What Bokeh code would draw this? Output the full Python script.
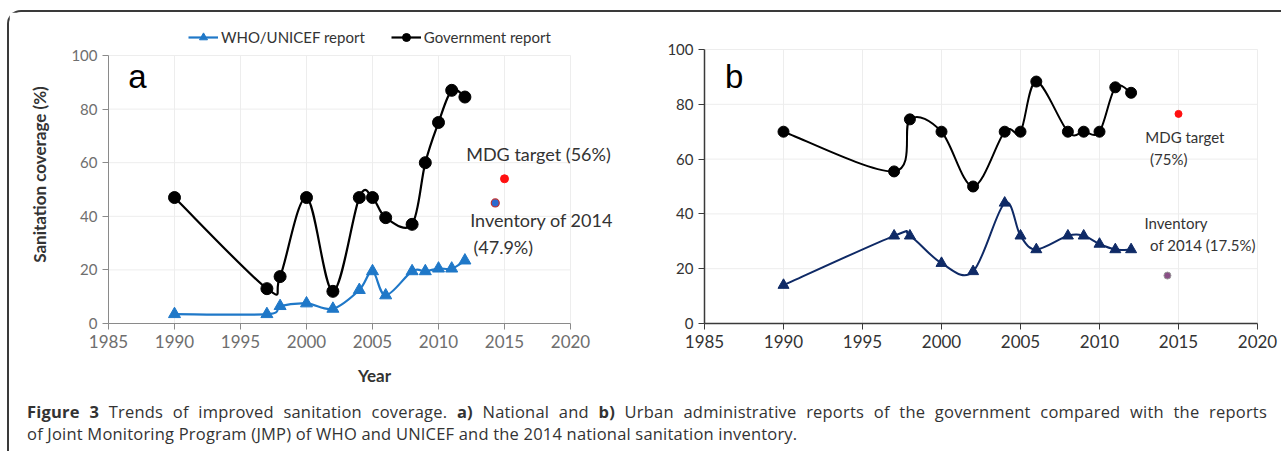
from bokeh.plotting import figure
from bokeh.models import Range1d, FixedTicker, Label, Legend, LegendItem, Div
from bokeh.layouts import row, column
from bokeh.embed import file_html
from bokeh.resources import INLINE

# ---------------- data ----------------
years_a_gov = [1990, 1997, 1998, 2000, 2002, 2004, 2005, 2006, 2008, 2009, 2010, 2011, 2012]
gov_a = [47, 13, 17.5, 47, 12, 47, 47, 39.5, 37, 60, 75, 87, 84.5]
years_a_who = [1990, 1997, 1998, 2000, 2002, 2004, 2005, 2006, 2008, 2009, 2010, 2011, 2012]
who_a = [3.5, 3.5, 6.5, 7.5, 5.5, 12.5, 19.5, 10.5, 19.5, 19.5, 20.5, 20.5, 23.5]
mdg_a = (2015, 54)
inv_a = (2014.3, 45)

years_b_gov = [1990, 1997, 1998, 2000, 2002, 2004, 2005, 2006, 2008, 2009, 2010, 2011, 2012]
gov_b = [70, 55.5, 74.5, 70, 50, 70, 70, 88.3, 70, 70, 70, 86.2, 84.2]
years_b_who = [1990, 1997, 1998, 2000, 2002, 2004, 2005, 2006, 2008, 2009, 2010, 2011, 2012]
who_b = [14, 32, 32, 22, 19, 44, 32, 27, 32, 32, 29, 27, 27]
mdg_b = (2015, 76.5)
inv_b = (2014.3, 17.5)

x_ticks = [1985, 1990, 1995, 2000, 2005, 2010, 2015, 2020]
y_ticks = [0, 20, 40, 60, 80, 100]

FONT = "Lato"
FRAME_H = 298


def smooth(xs, ys):
    """Bezier control points for a smoothed (Catmull-Rom style) line through the data."""
    n = len(xs)
    out = dict(x0=[], y0=[], x1=[], y1=[], cx0=[], cy0=[], cx1=[], cy1=[])
    for i in range(n - 1):
        xm, ym = (xs[i - 1], ys[i - 1]) if i > 0 else (xs[i], ys[i])
        xp, yp = (xs[i + 2], ys[i + 2]) if i + 2 < n else (xs[i + 1], ys[i + 1])
        out["x0"].append(xs[i]); out["y0"].append(ys[i])
        out["x1"].append(xs[i + 1]); out["y1"].append(ys[i + 1])
        out["cx0"].append(xs[i] + (xs[i + 1] - xm) / 6.0)
        out["cy0"].append(ys[i] + (ys[i + 1] - ym) / 6.0)
        out["cx1"].append(xs[i + 1] - (xp - xs[i]) / 6.0)
        out["cy1"].append(ys[i + 1] - (yp - ys[i]) / 6.0)
    return out


def style_axes(p, axis_color, label_color, ysize, xsize):
    for ax in (p.xaxis[0], p.yaxis[0]):
        ax.axis_line_color = axis_color
        ax.major_tick_line_color = axis_color
        ax.major_tick_out = 6
        ax.major_tick_in = 0
        ax.minor_tick_line_color = None
        ax.major_label_text_font = FONT
        ax.major_label_text_color = label_color
    p.xaxis[0].bounds = (x_ticks[0], x_ticks[-1])
    p.yaxis[0].bounds = (y_ticks[0], y_ticks[-1])
    p.xaxis[0].major_label_text_font_size = xsize
    p.yaxis[0].major_label_text_font_size = ysize
    p.xaxis[0].ticker = FixedTicker(ticks=x_ticks)
    p.yaxis[0].ticker = FixedTicker(ticks=y_ticks)
    p.xgrid.grid_line_color = None
    p.ygrid.grid_line_color = None
    # grid lines limited to the axis extent
    p.segment(x0=[x_ticks[0]] * (len(y_ticks) - 1), x1=[x_ticks[-1]] * (len(y_ticks) - 1),
              y0=y_ticks[1:], y1=y_ticks[1:], line_color="#ededed", line_width=1)
    p.segment(x0=x_ticks[1:], x1=x_ticks[1:], y0=[y_ticks[0]] * (len(x_ticks) - 1),
              y1=[y_ticks[-1]] * (len(x_ticks) - 1), line_color="#ededed", line_width=1)
    p.outline_line_color = None


# ---------------- panel a ----------------
pa = figure(frame_width=532, frame_height=FRAME_H, width=631, height=384,
            min_border_left=99, min_border_right=0, min_border_top=13, min_border_bottom=73,
            x_range=Range1d(1985, 1985 + 532 / 13.2), y_range=Range1d(0, FRAME_H / 2.68),
            output_backend="svg", toolbar_location=None)
style_axes(pa, "#8a8a8a", "#6e6e6e", "15px", "17px")
pa.yaxis[0].axis_label = "Sanitation coverage (%)"
pa.xaxis[0].axis_label = "Year"
for ax in (pa.xaxis[0], pa.yaxis[0]):
    ax.axis_label_text_font = FONT
    ax.axis_label_text_font_style = "bold"
    ax.axis_label_text_font_size = "17px"
    ax.axis_label_text_color = "#333333"
pa.yaxis[0].axis_label_standoff = 18
pa.xaxis[0].axis_label_standoff = 14

BLUE = "#1f78c8"
sa = smooth(years_a_who, who_a)
pa.bezier(**sa, line_color=BLUE, line_width=2.2)
pa.scatter(years_a_who, who_a, marker="triangle", size=12, color=BLUE)
sg = smooth(years_a_gov, gov_a)
pa.bezier(**sg, line_color="black", line_width=2.2)
pa.scatter(years_a_gov, gov_a, marker="circle", size=12, color="black")
pa.scatter([mdg_a[0]], [mdg_a[1]], marker="circle", size=8, color="#ff1010")
pa.scatter([inv_a[0]], [inv_a[1]], marker="circle", size=8, fill_color="#2a6ad0",
           line_color="#c03030", line_width=1.2)

# legend (proxy renderers placed outside the visible range)
lw = pa.line([1900, 1901], [-100, -100], line_color=BLUE, line_width=2.2)
mw = pa.scatter([1900], [-100], marker="triangle", size=11, color=BLUE)
lg = pa.line([1900, 1901], [-100, -100], line_color="black", line_width=2.2)
mg = pa.scatter([1900], [-100], marker="circle", size=10, color="black")
leg = Legend(items=[LegendItem(label="WHO/UNICEF report", renderers=[lw, mw]),
                    LegendItem(label="Government report", renderers=[lg, mg])],
             orientation="horizontal", location=(80, 276),
             background_fill_alpha=0, border_line_color=None,
             label_text_font=FONT, label_text_font_size="15px", label_text_color="#333333",
             glyph_width=30, label_standoff=3, spacing=26, padding=0, margin=0)
pa.add_layout(leg, "center")

pa.add_layout(Label(x=1986.5, y=92, text="a", text_font="Liberation Sans", text_font_size="33px",
                    text_color="black", text_baseline="middle", text_align="left"))
pa.add_layout(Label(x=2012.1, y=63.1, text="MDG target (56%)", text_font=FONT,
                    text_font_size="18px", text_color="#333333", text_baseline="middle"))
pa.add_layout(Label(x=2012.4, y=38.8, text="Inventory of 2014", text_font=FONT,
                    text_font_size="18px", text_color="#333333", text_baseline="middle"))
pa.add_layout(Label(x=2012.65, y=28.7, text="(47.9%)", text_font=FONT,
                    text_font_size="18px", text_color="#333333", text_baseline="middle"))

# ---------------- panel b ----------------
pb = figure(frame_width=575, frame_height=FRAME_H, width=639, height=384,
            min_border_left=64, min_border_right=0, min_border_top=13, min_border_bottom=73,
            x_range=Range1d(1985, 1985 + 575 / 15.8), y_range=Range1d(0, FRAME_H / 2.74),
            output_backend="svg", toolbar_location=None)
style_axes(pb, "#3a3a3a", "#333333", "15px", "17px")
pb.xaxis[0].axis_line_width = 1.5
pb.yaxis[0].axis_line_width = 1.5

NAVY = "#0f2a66"
sb = smooth(years_b_who, who_b)
pb.bezier(**sb, line_color=NAVY, line_width=2)
pb.scatter(years_b_who, who_b, marker="triangle", size=11, color=NAVY)
sg2 = smooth(years_b_gov, gov_b)
pb.bezier(**sg2, line_color="black", line_width=2)
pb.scatter(years_b_gov, gov_b, marker="circle", size=11, color="black")
pb.scatter([mdg_b[0]], [mdg_b[1]], marker="circle", size=7, color="#ff1010")
pb.scatter([inv_b[0]], [inv_b[1]], marker="circle", size=7, fill_color="#8a4f86",
           line_color="#9a9a9a", line_width=1)

pb.add_layout(Label(x=1986.3, y=90, text="b", text_font="Liberation Sans", text_font_size="33px",
                    text_color="black", text_baseline="middle", text_align="left"))
for tx, ty, t in [(2012.9, 67.9, "MDG target"), (2013.2, 60.2, "(75%)"),
                  (2012.85, 36.5, "Inventory"), (2013.2, 28.5, "of 2014 (17.5%)")]:
    pb.add_layout(Label(x=tx, y=ty, text=t, text_font=FONT, text_font_size="15px",
                        text_color="#333333", text_baseline="middle"))

# ---------------- caption ----------------
cap = Div(width=1268, height=47, text=(
    '<div style="font-family: \'Open Sans\'; font-size: 16.5px; letter-spacing: 0.2px; color: #333333; '
    'line-height: 22px; padding-top: 0px; padding-left: 13px; width: 1253px;">'
    '<div style="text-align: justify; text-align-last: justify; white-space: nowrap;"><b>Figure 3</b> Trends of improved sanitation coverage. '
    '<b>a)</b> National and <b>b)</b> Urban administrative reports of the government compared with the reports</div>'
    '<div style="white-space: nowrap;">of Joint Monitoring Program (JMP) of WHO and UNICEF and the 2014 national sanitation inventory.</div></div>'))

layout = column(row(pa, pb), cap,
                styles={"border-left": "2px solid #3a3a3a", "border-top": "2px solid #3a3a3a",
                        "border-top-left-radius": "14px", "margin-left": "7px", "margin-top": "10px"})

open("out.html", "w").write(file_html(layout, INLINE))
